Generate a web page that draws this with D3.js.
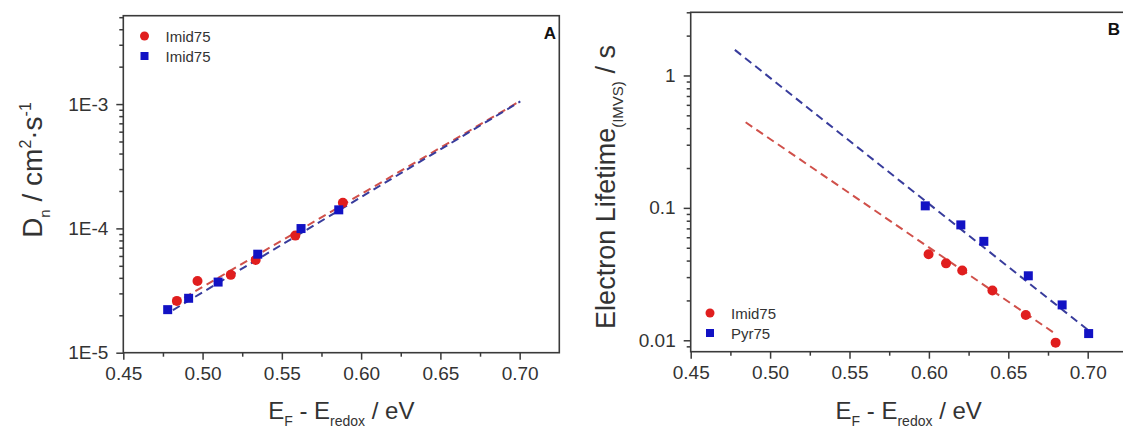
<!DOCTYPE html>
<html><head><meta charset="utf-8">
<script src="https://cdn.jsdelivr.net/npm/d3@7"></script>
<style>
body{margin:0;background:#fff;}
text{font-family:"Liberation Sans",Arial,sans-serif;}
</style></head>
<body><svg id="c" width="1123" height="434"></svg>
<script>
// ---------- data ----------
const xTickValues = [0.45, 0.50, 0.55, 0.60, 0.65, 0.70];
const xTickLabels = ["0.45", "0.50", "0.55", "0.60", "0.65", "0.70"];

// Panel A: diffusion coefficient
const aYTickValues = [1e-5, 1e-4, 1e-3];
const aYTickLabels = ["1E-5", "1E-4", "1E-3"];
const aRedX = [0.4838, 0.4968, 0.5178, 0.5335, 0.5585, 0.5885];
const aRedY = [2.61e-5, 3.78e-5, 4.23e-5, 5.57e-5, 8.75e-5, 1.61e-4];
const aBlueX = [0.4780, 0.4912, 0.5098, 0.5348, 0.5621, 0.5859];
const aBlueY = [2.22e-5, 2.74e-5, 3.70e-5, 6.20e-5, 9.97e-5, 1.41e-4];
const aRedFitX = [0.4813, 0.7004];
const aRedFitY = [2.45e-5, 1.06e-3];
const aBlueFitX = [0.4813, 0.7004];
const aBlueFitY = [2.2e-5, 1.05e-3];
const aLegend = ["Imid75", "Imid75"];

// Panel B: electron lifetime
const bYTickValues = [0.01, 0.1, 1];
const bYTickLabels = ["0.01", "0.1", "1"];
const bRedX = [0.5998, 0.6108, 0.6210, 0.6400, 0.6610, 0.6798];
const bRedY = [0.0446, 0.0381, 0.0337, 0.0238, 0.0155, 0.0096];
const bBlueX = [0.5977, 0.6201, 0.6346, 0.6626, 0.6839, 0.7006];
const bBlueY = [0.1036, 0.0744, 0.0559, 0.0307, 0.0185, 0.01124];
const bRedFitX = [0.4846, 0.6806];
const bRedFitY = [0.443, 0.0110];
const bBlueFitX = [0.4778, 0.7000];
const bBlueFitY = [1.56, 0.0120];
const bLegend = ["Imid75", "Pyr75"];

// ---------- styles ----------
const RED = "#e01e1e", BLUE = "#1212c4";
const RED_LINE = "#d0504a", BLUE_LINE = "#383c9c";
const AX = "#3a3a3a", TXT = "#333";

const svg = d3.select("#c");

function minorLog(lo, hi) {
  const out = [];
  for (let e = -6; e <= 1; e++) for (let m = 2; m <= 9; m++) {
    const v = m * Math.pow(10, e);
    if (v >= lo * 0.9999 && v <= hi * 1.0001) out.push(v);
  }
  return out;
}

function panel(o) {
  const x = d3.scaleLinear().domain([0.45, 0.725]).range([o.left, o.right]);
  const y = d3.scaleLog().domain(o.yDomain).range([o.bottom, o.top]);
  const g = svg.append("g");

  g.append("rect").attr("x", o.left).attr("y", o.top)
    .attr("width", o.right - o.left).attr("height", o.bottom - o.top)
    .attr("fill", "none").attr("stroke", AX).attr("stroke-width", 1.6);

  const xa = g.append("g").attr("transform", `translate(0,${o.bottom})`)
    .call(d3.axisBottom(x).tickValues(xTickValues).tickSize(7).tickPadding(7)
      .tickFormat((d, i) => xTickLabels[i]));
  const xm = g.append("g").attr("transform", `translate(0,${o.bottom})`)
    .call(d3.axisBottom(x).tickValues([0.475, 0.525, 0.575, 0.625, 0.675]).tickSize(4).tickFormat(""));
  const ya = g.append("g").attr("transform", `translate(${o.left},0)`)
    .call(d3.axisLeft(y).tickValues(o.yTicks).tickSize(7).tickPadding(8)
      .tickFormat((d, i) => o.yLabels[i]));
  const ym = g.append("g").attr("transform", `translate(${o.left},0)`)
    .call(d3.axisLeft(y).tickValues(minorLog(o.yDomain[0], o.yDomain[1]).filter(v => !o.yTicks.includes(v))).tickSize(4).tickFormat(""));
  [xa, xm, ya, ym].forEach(a => {
    a.select(".domain").remove();
    a.selectAll("line").attr("stroke", AX).attr("stroke-width", 1.5);
    a.selectAll("text").attr("fill", TXT).style("font-size", "19px")
      .style("font-family", "'Liberation Sans',Arial,sans-serif");
  });

  const line = d3.line().x(d => x(d[0])).y(d => y(d[1]));
  const fits = [[o.redFitX, o.redFitY, RED_LINE], [o.blueFitX, o.blueFitY, BLUE_LINE]];
  fits.forEach(([fx, fy, c]) => {
    g.append("path").datum(fx.map((v, i) => [v, fy[i]]))
      .attr("d", line).attr("fill", "none").attr("stroke", c)
      .attr("stroke-width", 2).attr("stroke-dasharray", "8,5");
  });

  g.selectAll(".rc").data(o.redX.map((v, i) => [v, o.redY[i]])).join("circle")
    .attr("cx", d => x(d[0])).attr("cy", d => y(d[1])).attr("r", 5).attr("fill", RED);
  g.selectAll(".bs").data(o.blueX.map((v, i) => [v, o.blueY[i]])).join("rect")
    .attr("x", d => x(d[0]) - 4.5).attr("y", d => y(d[1]) - 4.5)
    .attr("width", 9).attr("height", 9).attr("fill", BLUE);

  const lg = g.append("g");
  lg.append("circle").attr("cx", o.legX).attr("cy", o.legY).attr("r", 4.5).attr("fill", RED);
  lg.append("rect").attr("x", o.legX - 4).attr("y", o.legY + 20 - 4).attr("width", 8).attr("height", 8).attr("fill", BLUE);
  o.legend.forEach((t, i) => {
    lg.append("text").attr("x", o.legX + 21).attr("y", o.legY + i * 20 + 5.5)
      .attr("fill", TXT).style("font-size", "15px").text(t);
  });

  g.append("text").attr("x", o.letterX).attr("y", o.letterY).attr("text-anchor", "end")
    .attr("fill", "#111").style("font-size", "17px").style("font-weight", "bold").text(o.letter);

  const xt = g.append("text").attr("x", o.left + 218)
    .attr("y", 419).attr("text-anchor", "middle").attr("fill", TXT).style("font-size", "24px");
  xt.append("tspan").text("E");
  xt.append("tspan").attr("dy", 7).style("font-size", "14px").text("F");
  xt.append("tspan").attr("dy", -7).text(" - E");
  xt.append("tspan").attr("dy", 7).style("font-size", "14px").text("redox");
  xt.append("tspan").attr("dy", -7).text(" / eV");

  return {x, y, g};
}

panel({
  left: 123.3, right: 559.3, top: 15.7, bottom: 352.7,
  yDomain: [1e-5, 5.14e-3], yTicks: aYTickValues, yLabels: aYTickLabels,
  redX: aRedX, redY: aRedY, blueX: aBlueX, blueY: aBlueY,
  redFitX: aRedFitX, redFitY: aRedFitY, blueFitX: aBlueFitX, blueFitY: aBlueFitY,
  legend: aLegend, legX: 144.5, legY: 36, letter: "A", letterX: 556, letterY: 39
});
panel({
  left: 690.7, right: 1127.4, top: 12.3, bottom: 351.7,
  yDomain: [0.0082, 3], yTicks: bYTickValues, yLabels: bYTickLabels,
  redX: bRedX, redY: bRedY, blueX: bBlueX, blueY: bBlueY,
  redFitX: bRedFitX, redFitY: bRedFitY, blueFitX: bBlueFitX, blueFitY: bBlueFitY,
  legend: bLegend, legX: 710, legY: 313, letter: "B", letterX: 1120, letterY: 35
});

const ytA = svg.append("text").attr("transform", "translate(42,170) rotate(-90)")
  .attr("text-anchor", "middle").attr("fill", TXT).style("font-size", "28px");
ytA.append("tspan").text("D");
ytA.append("tspan").attr("dy", 8).style("font-size", "15px").text("n");
ytA.append("tspan").attr("dy", -8).text(" / cm");
ytA.append("tspan").attr("dy", -11).style("font-size", "16px").text("2");
ytA.append("tspan").attr("dy", 11).text("·s");
ytA.append("tspan").attr("dy", -11).style("font-size", "16px").text("-1");

const ytB = svg.append("text").attr("transform", "translate(615,187) rotate(-90)")
  .attr("text-anchor", "middle").attr("fill", TXT).style("font-size", "27px");
ytB.append("tspan").text("Electron Lifetime");
ytB.append("tspan").attr("dy", 8).style("font-size", "15px").text("(IMVS)");
ytB.append("tspan").attr("dy", -8).text(" / s");
</script></body></html>
